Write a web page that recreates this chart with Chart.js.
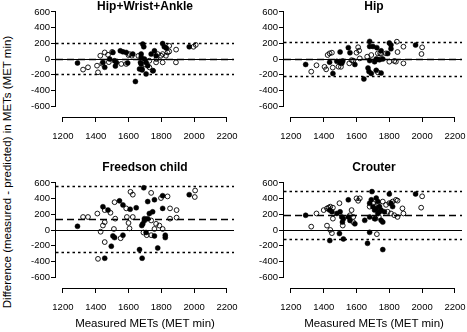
<!DOCTYPE html>
<html lang="en">
<head>
<meta charset="UTF-8" />
<title>Bland-Altman plots</title>
<style>
  * { margin: 0; padding: 0; font-family: "Liberation Sans", Arial, Helvetica, sans-serif; }
  body { width: 467px; height: 332px; overflow: hidden; background: #fff; position: relative; color: #000; }
  .panel { position: absolute; width: 227px; height: 151px; }
  .ptitle { position: absolute; font-weight: bold; font-size: 12px; line-height: 1; white-space: nowrap; transform: translateX(-50%); }
  .xtitle { position: absolute; font-size: 11.5px; line-height: 1; white-space: nowrap; transform: translateX(-50%); }
  .ytitle { position: absolute; left: 8px; top: 172px; font-size: 11.5px; line-height: 1; white-space: nowrap; transform: translate(-50%, -50%) rotate(-90deg); }
</style>
</head>
<body>
  <div class="ytitle">Difference (measured - predicted) in METs (MET min)</div>

  <div class="panel" style="left:20px; top:-4px;"><canvas id="p0"></canvas></div>
  <div class="panel" style="left:247.5px; top:-4px;"><canvas id="p1"></canvas></div>
  <div class="panel" style="left:20px; top:167px;"><canvas id="p2"></canvas></div>
  <div class="panel" style="left:247.5px; top:167px;"><canvas id="p3"></canvas></div>

  <div class="ptitle" style="left:145px; top:0px;">Hip+Wrist+Ankle</div>
  <div class="ptitle" style="left:374px; top:0px;">Hip</div>
  <div class="ptitle" style="left:145px; top:161px;">Freedson child</div>
  <div class="ptitle" style="left:374px; top:161px;">Crouter</div>

  <div class="xtitle" style="left:145px; top:318px;">Measured METs (MET min)</div>
  <div class="xtitle" style="left:374px; top:318px;">Measured METs (MET min)</div>

  <script src="https://cdn.jsdelivr.net/npm/chart.js@4.4.1/dist/chart.umd.min.js"></script>
  <script>
    const xTicks = [1200, 1400, 1600, 1800, 2000, 2200];
    const yTicks = [-600, -400, -200, 0, 200, 400, 600];

    // mean difference and limits of agreement per panel
    const biasLine = [5, 5, 140, 190];
    const upperLimit = [200, 220, 560, 500];
    const lowerLimit = [-195, -215, -285, -110];

    // [measured, difference] pairs, filled and open symbols
    const hwaFilled = [
      [1289, -51], [1444, -43], [1455, -106], [1485, 0], [1505, 84], [1515, -22], [1526, -43], [1520, -90],
      [1550, 105], [1566, 92], [1586, 84], [1595, -50], [1626, 63], [1642, -287], [1687, 190], [1693, 156],
      [1677, 63], [1673, -43], [1681, -127], [1667, -127], [1677, 21], [1697, 0], [1707, -43], [1677, -63],
      [1717, -85], [1683, -139], [1707, -190], [1738, 63], [1758, 105], [1768, 42], [1750, -150], [1808, 197],
      [1818, 156], [1830, 140], [1970, 156]
    ];
    const hwaOpen = [
      [1323, -135], [1353, -106], [1408, -85], [1414, -170], [1428, 42], [1455, 84], [1475, 54], [1440, -60],
      [1480, -40], [1500, 90], [1556, -63], [1586, -63], [1606, 63], [1620, 42], [1600, 50], [1660, 40],
      [1727, -106], [1747, -148], [1727, -22], [1768, -43], [1778, 63], [1798, 42], [1808, 63], [1828, 42],
      [1838, 84], [1848, 96], [1848, 168], [1808, -43], [1889, -43], [1890, 120], [1996, 156], [2010, 180],
      [1770, 0], [1700, -70]
    ];

    const hipFilled = [
      [1290, -70], [1436, -40], [1456, -185], [1480, -30], [1500, -45], [1510, -55], [1516, -25], [1500, 90],
      [1550, 145], [1560, 80], [1590, -70], [1645, -255], [1680, 225], [1680, 160], [1700, 160], [1724, 145],
      [1670, -115], [1676, -160], [1690, -185], [1710, -35], [1730, -5], [1750, 105], [1720, -145], [1750, -180],
      [1720, 0], [1740, -10], [1760, 0], [1800, 205], [1810, 180], [1790, 70], [1810, 130], [1960, 178], [1680, -20]
    ];
    const hipOpen = [
      [1324, -161], [1356, -80], [1405, -100], [1415, -132], [1424, 51], [1436, 72], [1450, 81], [1455, -110],
      [1490, -98], [1505, -100], [1556, -55], [1580, -21], [1610, 150], [1616, 107], [1600, 81], [1620, 8],
      [1690, 51], [1744, 72], [1730, 72], [1750, 64], [1780, 72], [1800, -34], [1830, -25], [1840, -34],
      [1846, 221], [1850, 89], [1886, 157], [1886, -55], [2000, 149], [1996, 64], [1730, -170], [1665, 30], [1570, -15]
    ];

    const freedsonFilled = [
      [1289, 47], [1444, 297], [1475, 254], [1545, 372], [1566, 320], [1647, 284], [1693, 539], [1697, 145],
      [1687, 79], [1681, 57], [1707, -32], [1505, -75], [1515, -97], [1566, -66], [1495, -207], [1667, -250],
      [1683, -360], [1455, -360], [1808, 438], [1758, 386], [1717, 363], [1970, 451], [1808, 276], [1747, 232],
      [1727, 211], [1717, 145], [1697, 122], [1824, -66], [1824, -97], [1758, -75], [1778, -229], [1610, 265]
    ];
    const freedsonOpen = [
      [1323, 166], [1353, 166], [1410, 210], [1455, 254], [1515, 355], [1586, 276], [1612, 487], [1626, 451],
      [1519, 145], [1455, 100], [1444, 57], [1430, -22], [1511, 13], [1552, -105], [1455, -154], [1606, 21],
      [1626, 166], [1590, 166], [1414, -368], [1738, 474], [1798, 408], [1838, 429], [1853, 276], [1893, 254],
      [1738, 122], [1768, 79], [1788, 57], [1808, 13], [1853, 145], [1893, 158], [1691, -32], [1711, -66],
      [1738, -66], [1758, 13], [2006, 504], [2004, 421], [1490, 220], [1600, 90]
    ];

    const crouterFilled = [
      [1290, 188], [1436, 254], [1450, 232], [1437, -135], [1480, 211], [1500, 232], [1510, 167], [1520, 145],
      [1514, 101], [1550, 385], [1496, -45], [1520, -114], [1550, 167], [1560, 122], [1590, 79], [1650, 123],
      [1680, 167], [1667, -170], [1694, 490], [1680, 342], [1690, 385], [1700, 298], [1710, 254], [1720, 276],
      [1730, 211], [1740, 232], [1680, -30], [1760, -250], [1800, 460], [1810, 343], [1820, 299], [1960, 460],
      [1720, 407], [1730, 363], [1740, 299], [1750, 254], [1770, 232], [1710, 145], [1750, 123], [1760, 101]
    ];
    const crouterOpen = [
      [1324, 43], [1356, 211], [1400, 254], [1420, 276], [1430, 285], [1440, 298], [1456, 285], [1456, 145],
      [1420, 56], [1440, 1], [1450, -40], [1496, 342], [1516, 57], [1570, 254], [1560, 188], [1580, 167],
      [1600, 404], [1620, 404], [1610, 373], [1680, 298], [1700, 342], [1730, 342], [1716, 145], [1736, 167],
      [1724, -53], [1760, 363], [1780, 321], [1800, 343], [1820, 363], [1840, 385], [1850, 375], [1790, 233],
      [1810, 211], [1830, 189], [1850, 167], [1880, 276], [1886, 211], [2000, 430], [1994, 285], [1580, 100]
    ];

    Chart.defaults.font.family = '"Liberation Sans", Arial, Helvetica, sans-serif';
    Chart.defaults.color = '#000';

    // zero, bias and limit lines across the plot region
    const refLines = {
      id: 'refLines',
      beforeDatasetsDraw(chart, args, opts) {
        const { ctx, chartArea: a, scales: { y } } = chart;
        const hline = (v, dash, w) => {
          const py = Math.round(y.getPixelForValue(v)) + 0.5;
          ctx.save();
          ctx.strokeStyle = '#000';
          ctx.lineWidth = w;
          ctx.setLineDash(dash);
          ctx.beginPath();
          ctx.moveTo(a.left, py);
          ctx.lineTo(a.right, py);
          ctx.stroke();
          ctx.restore();
        };
        hline(0, [], 1);
        hline(opts.bias, [7, 4], 1.6);
        hline(opts.upper, [2.5, 3], 1.6);
        hline(opts.lower, [2.5, 3], 1.6);
      }
    };

    // R style axis lines: only from first to last tick
    const axisLines = {
      id: 'axisLines',
      afterDraw(chart) {
        const { ctx, chartArea: a, scales: { x, y } } = chart;
        const by = Math.round(a.bottom) + 0.5;
        const lx = Math.round(a.left) - 0.5;
        ctx.save();
        ctx.strokeStyle = '#000';
        ctx.lineWidth = 1;
        ctx.beginPath();
        ctx.moveTo(x.getPixelForValue(xTicks[0]), by);
        ctx.lineTo(x.getPixelForValue(xTicks[xTicks.length - 1]), by);
        ctx.moveTo(lx, y.getPixelForValue(yTicks[0]));
        ctx.lineTo(lx, y.getPixelForValue(yTicks[yTicks.length - 1]));
        ctx.stroke();
        ctx.restore();
      }
    };

    function toPoints(list) {
      return list.map(p => ({ x: p[0], y: p[1] }));
    }

    function makePanel(id, i, filled, open) {
      new Chart(document.getElementById(id), {
        type: 'scatter',
        data: {
          datasets: [
            {
              data: toPoints(open),
              pointRadius: 2.4,
              pointBorderWidth: 0.9,
              pointBorderColor: '#000',
              pointBackgroundColor: 'rgba(0,0,0,0)'
            },
            {
              data: toPoints(filled),
              pointRadius: 2.5,
              pointBorderWidth: 0.5,
              pointBorderColor: '#000',
              pointBackgroundColor: '#000'
            }
          ]
        },
        options: {
          responsive: true,
          maintainAspectRatio: false,
          animation: false,
          events: [],
          layout: { padding: { top: 8, right: 12, bottom: 0, left: 0 } },
          plugins: {
            legend: { display: false },
            tooltip: { enabled: false },
            refLines: { bias: biasLine[i], upper: upperLimit[i], lower: lowerLimit[i] }
          },
          scales: {
            x: {
              type: 'linear',
              min: 1158,
              max: 2243,
              afterBuildTicks: s => { s.ticks = xTicks.map(v => ({ value: v })); },
              afterFit: s => { s.height = 30; },
              grid: { drawOnChartArea: false, drawTicks: true, tickLength: 5, color: '#000' },
              border: { display: false },
              ticks: { font: { size: 9.5 }, color: '#000', padding: 9, maxRotation: 0, autoSkip: false, callback: v => String(v) }
            },
            y: {
              type: 'linear',
              min: -740,
              max: 702,
              afterBuildTicks: s => { s.ticks = yTicks.map(v => ({ value: v })); },
              afterFit: s => { s.width = 36; },
              grid: { drawOnChartArea: false, drawTicks: true, tickLength: 5, color: '#000' },
              border: { display: false },
              ticks: { font: { size: 9.5 }, color: '#000', padding: 1, autoSkip: false, callback: v => String(v) }
            }
          }
        },
        plugins: [refLines, axisLines]
      });
    }

    makePanel('p0', 0, hwaFilled, hwaOpen);
    makePanel('p1', 1, hipFilled, hipOpen);
    makePanel('p2', 2, freedsonFilled, freedsonOpen);
    makePanel('p3', 3, crouterFilled, crouterOpen);
  </script>
</body>
</html>
